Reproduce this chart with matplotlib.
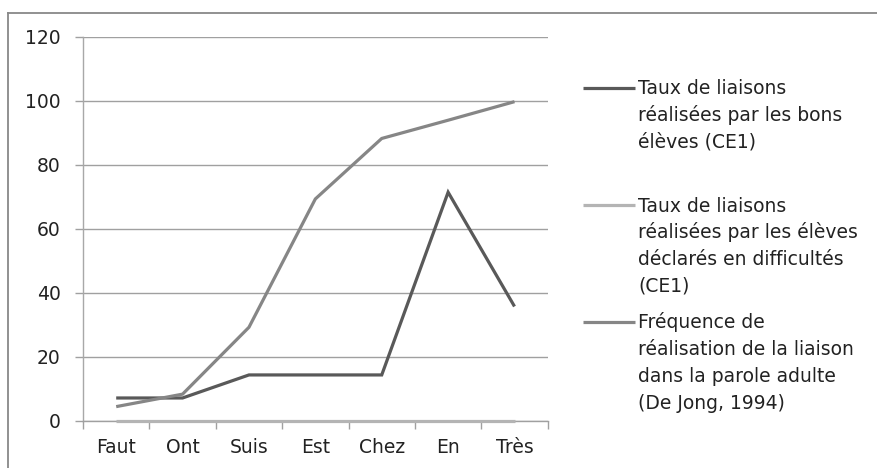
import matplotlib
matplotlib.use("Agg")
import matplotlib.pyplot as plt
from matplotlib.lines import Line2D

categories = ["Faut", "Ont", "Suis", "Est", "Chez", "En", "Très"]
bons = [7.1, 7.1, 14.3, 14.3, 14.3, 71.4, 35.7]
difficultes = [0, 0, 0, 0, 0, 0, 0]
adulte = [4.4, 8.3, 29.2, 69.3, 88.2, 93.9, 99.7]
labels = [
    "Taux de liaisons\nréalisées par les bons\nélèves (CE1)",
    "Taux de liaisons\nréalisées par les élèves\ndéclarés en difficultés\n(CE1)",
    "Fréquence de\nréalisation de la liaison\ndans la parole adulte\n(De Jong, 1994)",
]
yticks = [0, 20, 40, 60, 80, 100, 120]

plt.rcParams['font.family'] = ['DejaVu Sans']

W, H = 878, 468
fig = plt.figure(figsize=(W / 100, H / 100), dpi=100)
fig.patch.set_facecolor("white")

x0, x1, y0, y1 = 83, 547.7, 36.7, 420.7
ax = fig.add_axes([x0 / W, 1 - y1 / H, (x1 - x0) / W, (y1 - y0) / H])

colors = ["#595959", "#b4b4b4", "#868686"]
series = [bons, difficultes, adulte]
xs = [i + 0.5 for i in range(len(categories))]
lines = []
for s, c, lab in zip(series, colors, labels):
    ln, = ax.plot(xs, s, color=c, lw=2.3, solid_capstyle="butt", solid_joinstyle="miter",
                  label=lab, zorder=3, clip_on=False)
    lines.append(ln)

FS = 13.5
TXT = "#222222"
ax.set_xlim(0, len(categories))
ax.set_ylim(0, 120)
ax.set_yticks(yticks)
ax.set_yticklabels([str(v) for v in yticks])
ax.yaxis.grid(True, color="#a0a0a0", lw=1.0)
ax.set_axisbelow(True)
for sp in ["top", "right"]:
    ax.spines[sp].set_visible(False)
ax.spines["left"].set_color("#a8a8a8")
ax.spines["bottom"].set_color("#a0a0a0")
ax.spines["left"].set_linewidth(1.0)
ax.spines["bottom"].set_linewidth(1.0)

ax.set_xticks(range(len(categories) + 1))
ax.set_xticklabels([])
ax.set_xticks(xs, minor=True)
ax.set_xticklabels(categories, minor=True)
ax.tick_params(axis="x", which="major", length=5.5, color="#a0a0a0", width=1.0, direction="out")
ax.tick_params(axis="x", which="minor", length=0, pad=12.5, labelsize=FS, labelcolor=TXT)
ax.tick_params(axis="y", length=5.5, color="#a0a0a0", width=1.0, pad=10.5, labelsize=FS, labelcolor=TXT)

# outer frame
fig.add_artist(Line2D([8 / W, 8 / W], [0, 1 - 12.7 / H], transform=fig.transFigure, color="#888888", lw=1.3))
fig.add_artist(Line2D([8 / W, 1], [1 - 12.7 / H, 1 - 12.7 / H], transform=fig.transFigure, color="#888888", lw=1.3))

# legend
LS = 26.7
for i, ln in enumerate(lines):
    yc = 88 + 117 * i
    fig.add_artist(Line2D([583 / W, 635 / W], [1 - yc / H, 1 - yc / H], transform=fig.transFigure,
                          color=ln.get_color(), lw=2.3, solid_capstyle="butt"))
    for j, part in enumerate(ln.get_label().split("\n")):
        fig.text(638 / W, 1 - (yc + 6.5 + LS * j) / H, part, ha="left", va="baseline",
                 fontsize=FS, color=TXT)

fig.savefig("out.png", dpi=100, facecolor="white")
